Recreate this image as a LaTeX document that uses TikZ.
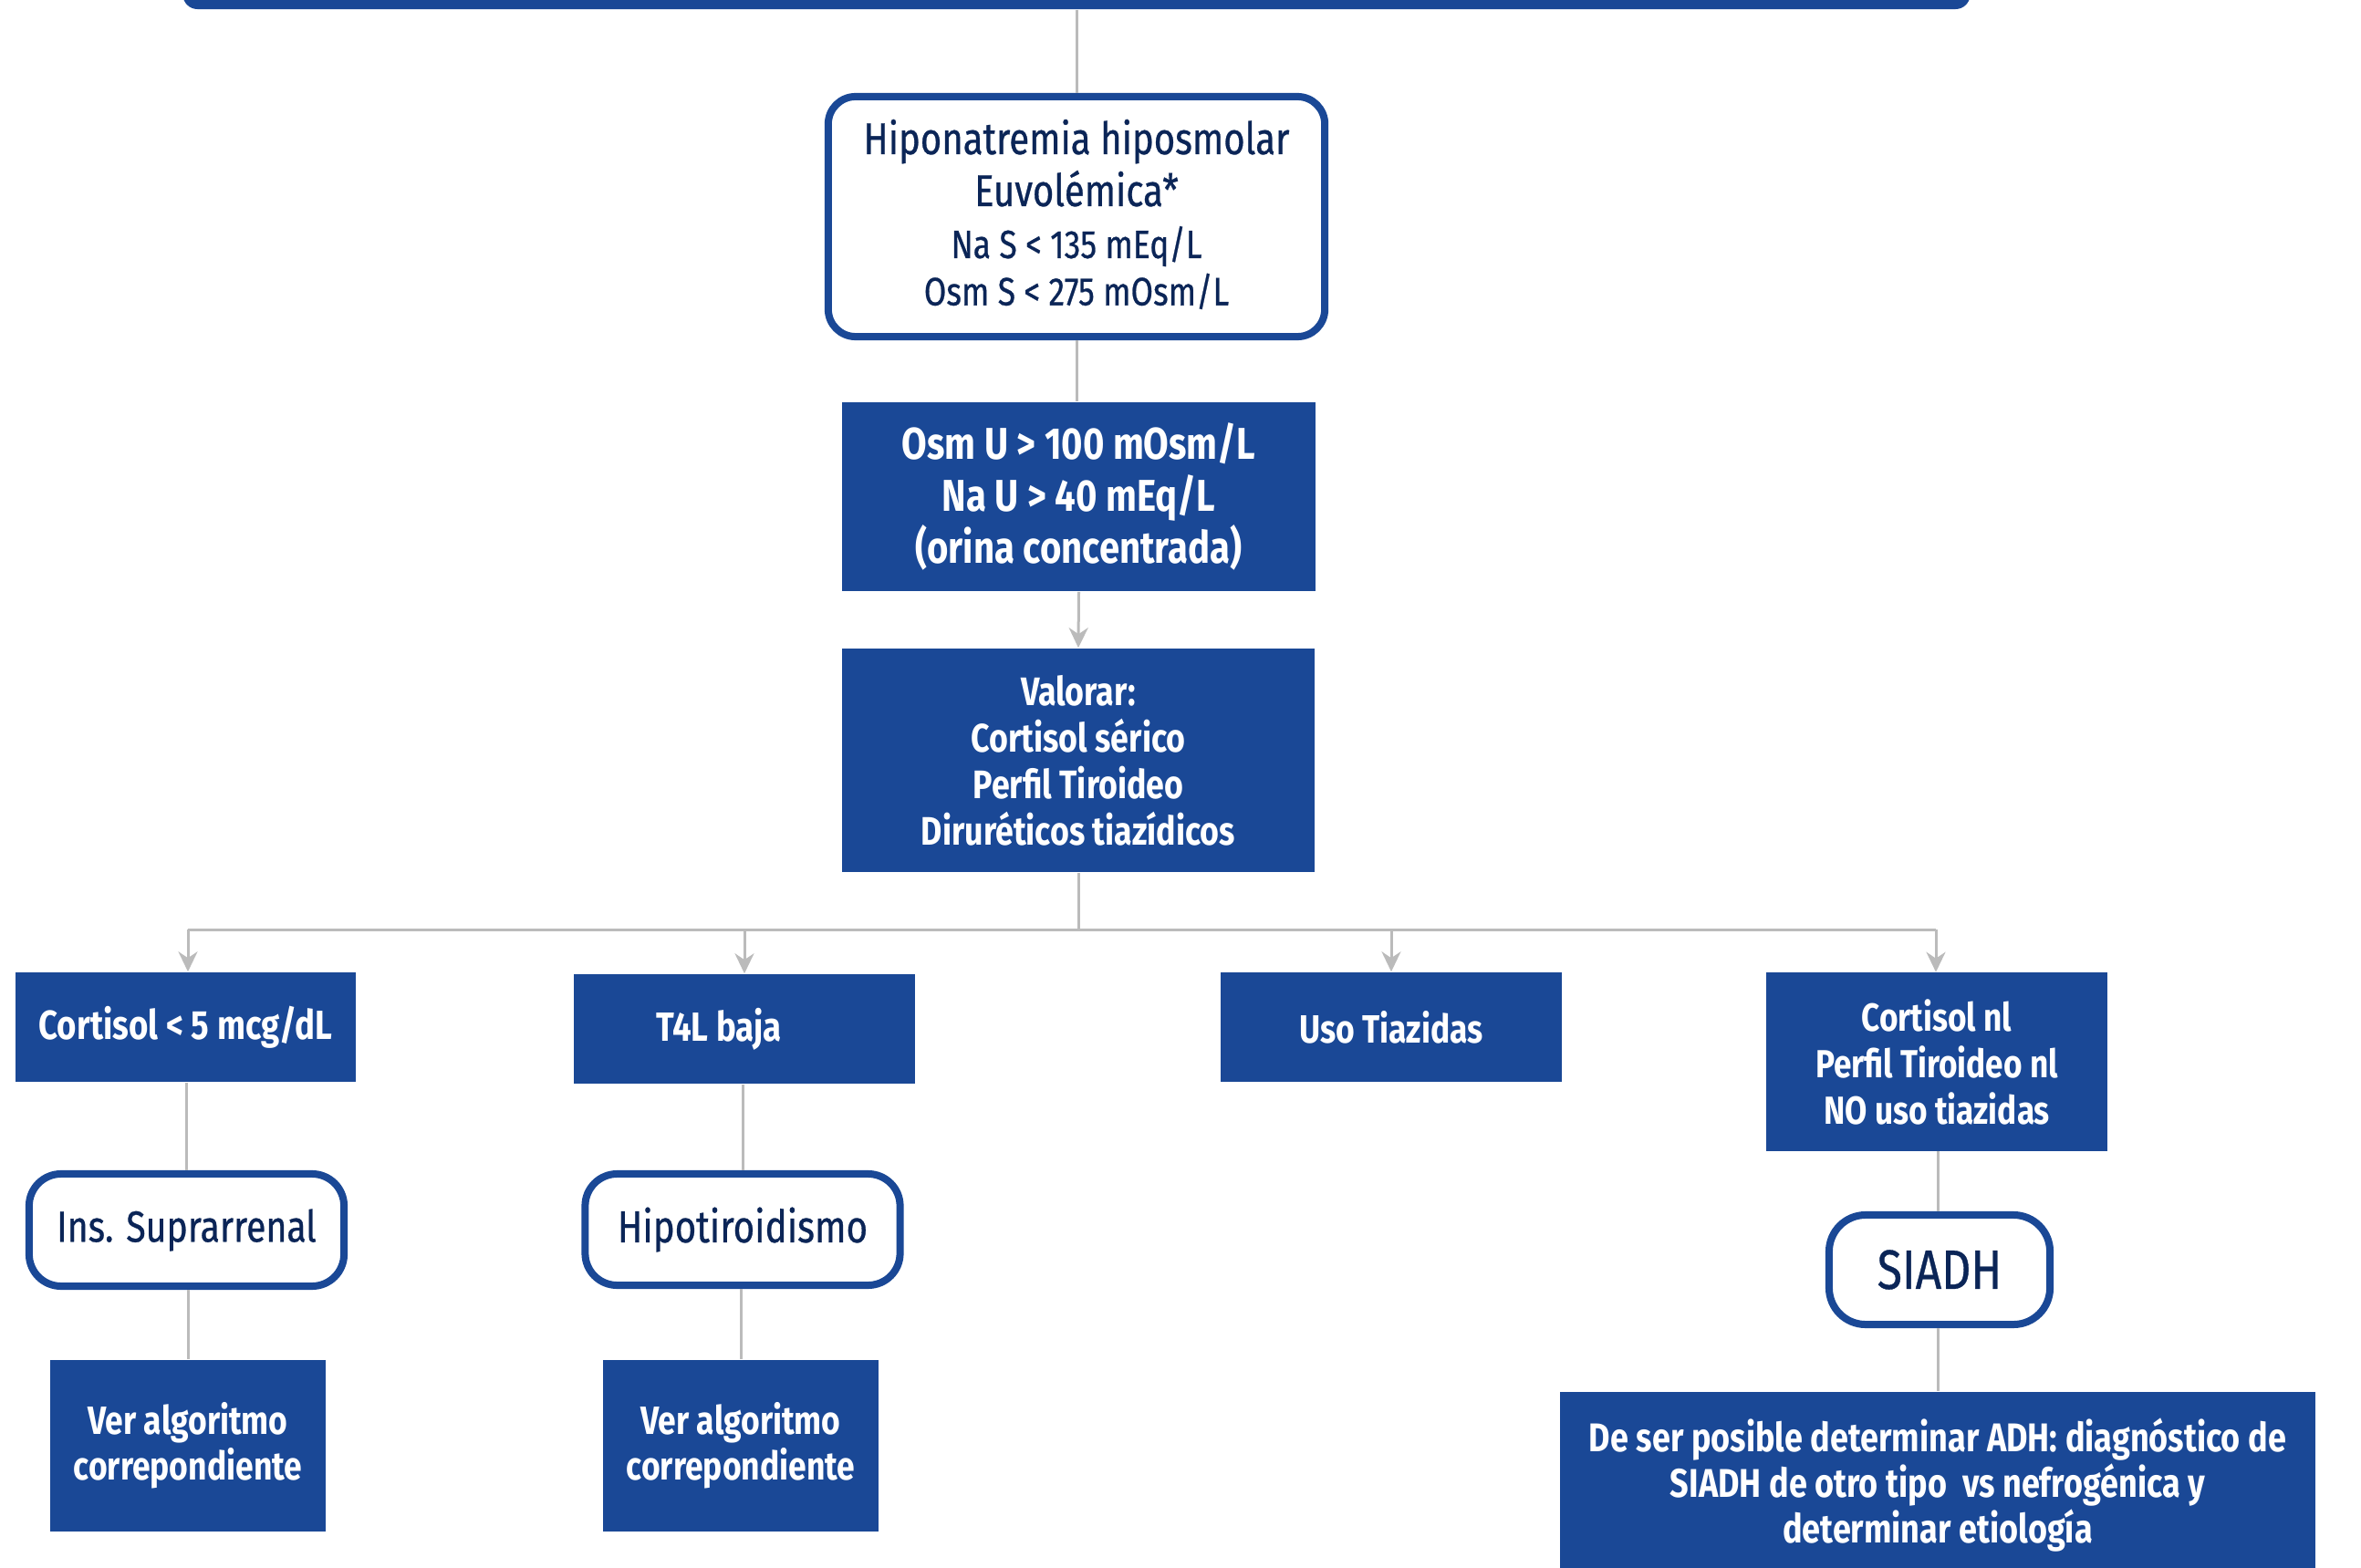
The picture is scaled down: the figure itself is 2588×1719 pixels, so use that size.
\documentclass[tikz,border=0pt]{standalone}
\usepackage{fontspec}
\setmainfont{Fira Sans}[FakeStretch=0.82]
\newfontfamily\medfont{Fira Sans}[FakeStretch=0.82, FakeBold=0.6]
\usetikzlibrary{arrows.meta}
\definecolor{blu}{HTML}{1A4896}
\definecolor{navy}{HTML}{0B2557}
\definecolor{lgray}{HTML}{BBBBBB}
\newcommand\fsz[2]{\fontsize{#1}{#2}\selectfont}
\tikzset{
  bluebox/.style={fill=blu, text=white, inner sep=0pt, align=center},
  whitebox/.style={draw=blu, line width=0.08cm, fill=white, text=navy, rounded corners=0.35cm, inner sep=0pt, align=center},
  conn/.style={draw=lgray, line width=0.03cm},
  arr/.style={conn, -{Stealth[length=0.22cm,width=0.21cm,inset=0.07cm]}},
}
\begin{document}
\begin{tikzpicture}[x=0.01cm,y=-0.01cm]
\useasboundingbox (0,0) rectangle (2588,1719);
\begin{scope}
\clip (0,0) rectangle (2588,1719);
% top bar
\node[fill=blu, rounded corners=0.16cm, minimum width=19.58cm, minimum height=0.6cm, inner sep=0pt] (top) at (1180,-20) {};
% level 1
\node[whitebox, rounded corners=0.3cm, minimum width=5.44cm, minimum height=2.63cm, font=\medfont\fsz{13.9pt}{16.2pt}] (b1) at (1180,237.5) {};
\node[text=navy, align=center, inner sep=0pt, font=\medfont\fsz{13.9pt}{16.2pt}] (b1t) at (1180,235)
  {Hiponatremia hiposmolar\\Euvolémica*\\
   \fsz{12.3pt}{14.2pt}Na S < 135 mEq/L\\[-1.5pt]\fsz{12.3pt}{14.2pt}Osm S < 275 mOsm/L};
\node[bluebox, minimum width=5.19cm, minimum height=2.07cm, font=\bfseries\fsz{13.9pt}{16.2pt}] (b2) at (1182.5,544.5)
  {Osm U > 100 mOsm/L\\Na U > 40 mEq/L\\(orina concentrada)};
\node[bluebox, minimum width=5.18cm, minimum height=2.45cm, font=\bfseries\fsz{12.4pt}{14.5pt}] (b3) at (1182,833.5)
  {Valorar:\\Cortisol sérico\\Perfil Tiroideo\\Diruréticos tiazídicos};
% row
\node[bluebox, minimum width=3.73cm, minimum height=1.2cm, font=\bfseries\fsz{12.7pt}{14.5pt}] (c5) at (203.5,1126)
  {Cortisol < 5 mcg/dL};
\node[bluebox, minimum width=3.73cm, minimum height=1.2cm, font=\bfseries\fsz{12.7pt}{14.5pt}] (t4) at (816,1128)
  {T4L baja\hspace*{0.56cm}};
\node[bluebox, minimum width=3.73cm, minimum height=1.2cm, font=\bfseries\fsz{12.3pt}{14.5pt}] (ut) at (1525,1126)
  {Uso Tiazidas};
\node[bluebox, minimum width=3.73cm, minimum height=1.95cm, font=\bfseries\fsz{12.2pt}{14.5pt}] (cn) at (2123,1164)
  {Cortisol nl\\Perfil Tiroideo nl\\NO uso tiazidas};
% level 3
\node[whitebox, minimum width=3.45cm, minimum height=1.23cm, font=\medfont\fsz{13.6pt}{15pt}] (ins) at (204.5,1348.5)
  {Ins. Suprarrenal};
\node[whitebox, minimum width=3.45cm, minimum height=1.22cm, font=\medfont\fsz{14pt}{15pt}] (hip) at (814,1348)
  {Hipotiroidismo};
\node[whitebox, rounded corners=0.4cm, minimum width=2.42cm, minimum height=1.2cm, font=\medfont\fsz{17.3pt}{18pt}] (sia) at (2126,1392)
  {SIADH};
% level 4
\node[bluebox, minimum width=3.02cm, minimum height=1.88cm, font=\bfseries\fsz{12.3pt}{14.2pt}] (v1) at (206,1585)
  {Ver algoritmo\\correpondiente};
\node[bluebox, minimum width=3.02cm, minimum height=1.88cm, font=\bfseries\fsz{12.3pt}{14.2pt}] (v2) at (812,1585)
  {Ver algoritmo\\correpondiente};
\node[bluebox, minimum width=8.28cm, minimum height=2.04cm, font=\bfseries\fsz{12.5pt}{14.2pt}] (ds) at (2124,1628)
  {De ser posible determinar ADH: diagnóstico de\\SIADH de otro tipo \ vs nefrogénica y\\determinar etiología};
\end{scope}
% connectors
\draw[conn] (top.south -| b1.north) -- (b1.north);
\draw[conn] (b1.south) -- (b1.south |- b2.north);
\draw[arr] (b2.south) -- (b3.north);
\coordinate (bl) at (206,1019);
\coordinate (brr) at (2122,1019);
\draw[conn] (b3.south) -- (b3.south |- bl);
\draw[conn] (bl) -- (brr);
\draw[arr] (bl) -- (bl |- c5.north);
\draw[arr] (t4.north |- bl) -- (t4.north);
\draw[arr] (ut.north |- bl) -- (ut.north);
\draw[arr] (brr) -- (brr |- cn.north);
\draw[conn] (c5.south -| ins.north) -- (ins.north);
\draw[conn] (ins.south -| v1.north) -- (v1.north);
\draw[conn] (t4.south -| hip.north) -- (hip.north);
\draw[conn] (hip.south -| v2.north) -- (v2.north);
\draw[conn] (cn.south -| ds.north) -- (sia.north -| ds.north);
\draw[conn] (sia.south -| ds.north) -- (ds.north);
\end{tikzpicture}
\end{document}
